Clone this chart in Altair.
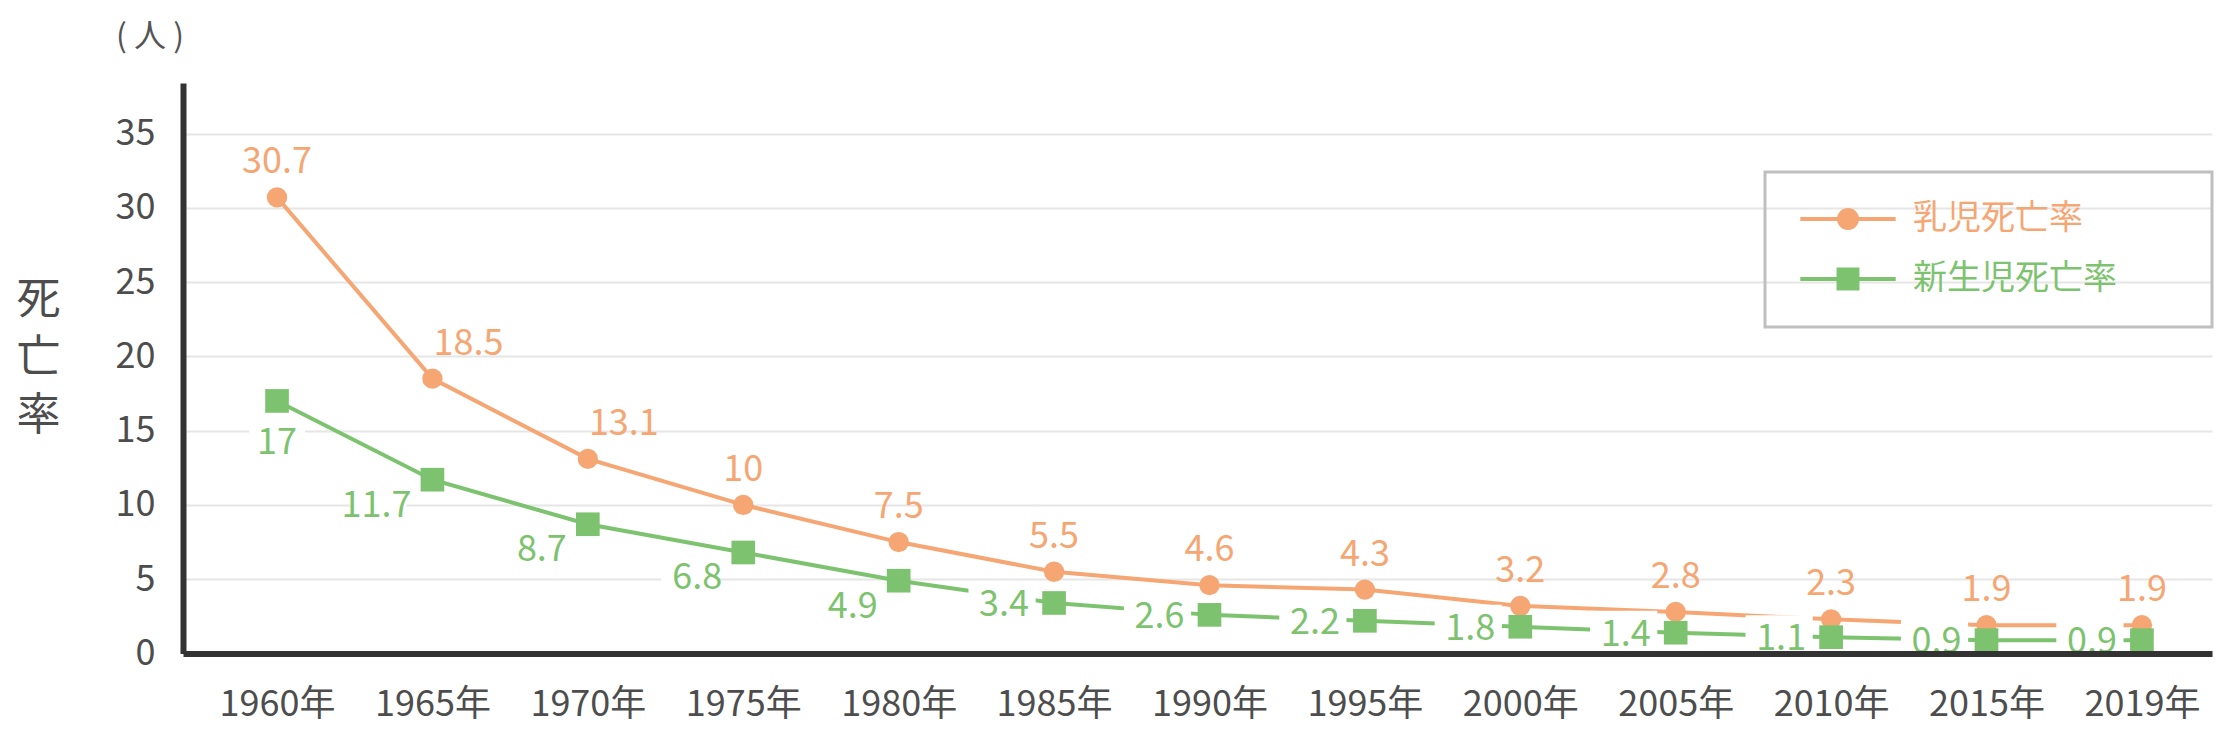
import altair as alt
import pandas as pd

FONT = "Noto Sans CJK JP"

years = ["1960年", "1965年", "1970年", "1975年", "1980年", "1985年", "1990年",
         "1995年", "2000年", "2005年", "2010年", "2015年", "2019年"]
infant = [30.7, 18.5, 13.1, 10, 7.5, 5.5, 4.6, 4.3, 3.2, 2.8, 2.3, 1.9, 1.9]
neonatal = [17, 11.7, 8.7, 6.8, 4.9, 3.4, 2.6, 2.2, 1.8, 1.4, 1.1, 0.9, 0.9]
series_names = ["乳児死亡率", "新生児死亡率"]
series_colors = ["#F5A673", "#7DC36F"]
y_ticks = [0, 5, 10, 15, 20, 25, 30, 35]
unit_label = ["( 人 )"]

df = pd.DataFrame({"year": years, "infant": infant, "neonatal": neonatal,
                   "infant_t": [str(v) for v in infant],
                   "neonatal_t": [str(v) for v in neonatal]})

ORANGE, GREEN = series_colors
TXT = "#4d4d4d"
FS = 36


def X():
    return alt.X("year:N", sort=years,
                 scale=alt.Scale(type="point", padding=0.528, align=0.573),
                 axis=alt.Axis(title=None, labelAngle=0, labelFont=FONT, labelFontSize=FS,
                               labelColor=TXT, labelPadding=34, ticks=False,
                               domainColor="#333333", domainWidth=6, grid=False, zindex=1))


def Y(field):
    return alt.Y(f"{field}:Q",
                 scale=alt.Scale(domain=[0, 38.4], nice=False, zero=True),
                 axis=alt.Axis(values=y_ticks, title=["死", "亡", "率"], titleAngle=0,
                               titleX=-145, titleY=217, titleFont=FONT, titleFontSize=44,
                               titleFontWeight="normal", titleColor=TXT, titleLineHeight=58,
                               titleBaseline="middle", titleAlign="center",
                               labelFont=FONT, labelFontSize=FS, labelColor=TXT,
                               labelPadding=28, ticks=False, domainColor="#333333",
                               domainWidth=6, gridColor="#e6e6e6", gridWidth=2))


base = alt.Chart(df)

line_inf = base.mark_line(color=ORANGE, strokeWidth=4).encode(x=X(), y=Y("infant"))
line_neo = base.mark_line(color=GREEN, strokeWidth=4).encode(x=X(), y=Y("neonatal"))

box_path = "M-1.4,-1H1.4V1H-1.4Z"
box_first = base.transform_filter(alt.datum.year == years[0]).mark_point(
    shape=box_path, filled=True, color="white", opacity=1, size=1600, yOffset=43
).encode(x=X(), y=Y("neonatal"))
box_mid = base.transform_filter(
    alt.FieldOneOfPredicate(field="year", oneOf=years[1:5])
).mark_point(shape=box_path, filled=True, color="white", opacity=1, size=1600,
             xOffset=-54, yOffset=26).encode(x=X(), y=Y("neonatal"))
box_low = base.transform_filter(
    alt.FieldOneOfPredicate(field="year", oneOf=years[5:])
).mark_point(shape=box_path, filled=True, color="white", opacity=1, size=2304,
             xOffset=-52, yOffset=2).encode(x=X(), y=Y("neonatal"))

pts_inf = base.mark_circle(color=ORANGE, opacity=1, size=415).encode(x=X(), y=Y("infant"))
pts_neo = base.mark_square(color=GREEN, opacity=1, size=560).encode(x=X(), y=Y("neonatal"))

lab_inf_shift = base.transform_filter(
    alt.FieldOneOfPredicate(field="year", oneOf=years[1:3])
).mark_text(font=FONT, fontSize=FS, color=ORANGE, dx=36, dy=-35, baseline="middle").encode(
    x=X(), y=Y("infant"), text="infant_t:N")
lab_inf = base.transform_filter(
    ~alt.FieldOneOfPredicate(field="year", oneOf=years[1:3])
).mark_text(font=FONT, fontSize=FS, color=ORANGE, dy=-35, baseline="middle").encode(
    x=X(), y=Y("infant"), text="infant_t:N")

lab_neo_first = base.transform_filter(alt.datum.year == years[0]).mark_text(
    font=FONT, fontSize=FS, color=GREEN, dy=42, baseline="middle").encode(
    x=X(), y=Y("neonatal"), text="neonatal_t:N")
lab_neo_mid = base.transform_filter(
    alt.FieldOneOfPredicate(field="year", oneOf=years[1:5])
).mark_text(font=FONT, fontSize=FS, color=GREEN, align="right", dx=-21, dy=26,
            baseline="middle").encode(x=X(), y=Y("neonatal"), text="neonatal_t:N")
lab_neo_low = base.transform_filter(
    alt.FieldOneOfPredicate(field="year", oneOf=years[5:])
).mark_text(font=FONT, fontSize=FS, color=GREEN, align="right", dx=-25, dy=2,
            baseline="middle").encode(x=X(), y=Y("neonatal"), text="neonatal_t:N")

unit_text = alt.Chart(pd.DataFrame({"t": unit_label})).mark_text(
    font=FONT, fontSize=32, color="#555555", baseline="middle", align="center"
).encode(x=alt.value(-33), y=alt.value(-46), text="t:N")

circle_path = "M-5.3,0H5.3M1,0A1,1,0,1,1,-1,0A1,1,0,1,1,1,0Z"
square_path = "M-5.3,0H5.3M-1.05,-1.05H1.05V1.05H-1.05Z"
leg = alt.Legend(title="x", titleOrient="right", titleColor="rgba(0,0,0,0)",
                 titleFontSize=34, titlePadding=46,
                 orient="none", legendX=1582, legendY=89,
                 labelFont=FONT, labelFontSize=34, labelLimit=600,
                 labelColor=alt.ExprRef(f"datum.value == '{series_names[0]}' ? '{ORANGE}' : '{GREEN}'"),
                 symbolSize=324, symbolStrokeWidth=4, symbolOffset=36, labelOffset=48,
                 padding=30, rowPadding=25, strokeColor="#bfbfbf")
legend_df = pd.DataFrame({"series": series_names})
legend_layer = alt.Chart(legend_df).transform_filter("false").mark_point(
    size=324, strokeWidth=4, opacity=1
).encode(
    shape=alt.Shape("series:N", scale=alt.Scale(domain=series_names,
                                                range=[circle_path, square_path]), legend=leg),
    fill=alt.Fill("series:N", scale=alt.Scale(domain=series_names, range=series_colors), legend=leg),
    stroke=alt.Stroke("series:N", scale=alt.Scale(domain=series_names, range=series_colors), legend=leg),
)

chart = alt.layer(
    line_inf, line_neo, box_first, box_mid, box_low, pts_inf, pts_neo,
    lab_inf_shift, lab_inf, lab_neo_first, lab_neo_mid, lab_neo_low, unit_text, legend_layer
).properties(
    width=2029, height=570.5,
    padding={"left": 183, "top": 83, "right": 28, "bottom": 88.5},
    autosize=alt.AutoSizeParams(type="none"),
).configure_view(stroke=None).configure_legend(strokeWidth=3)

chart.save("out.html", embed_options={"renderer": "svg", "actions": False})
